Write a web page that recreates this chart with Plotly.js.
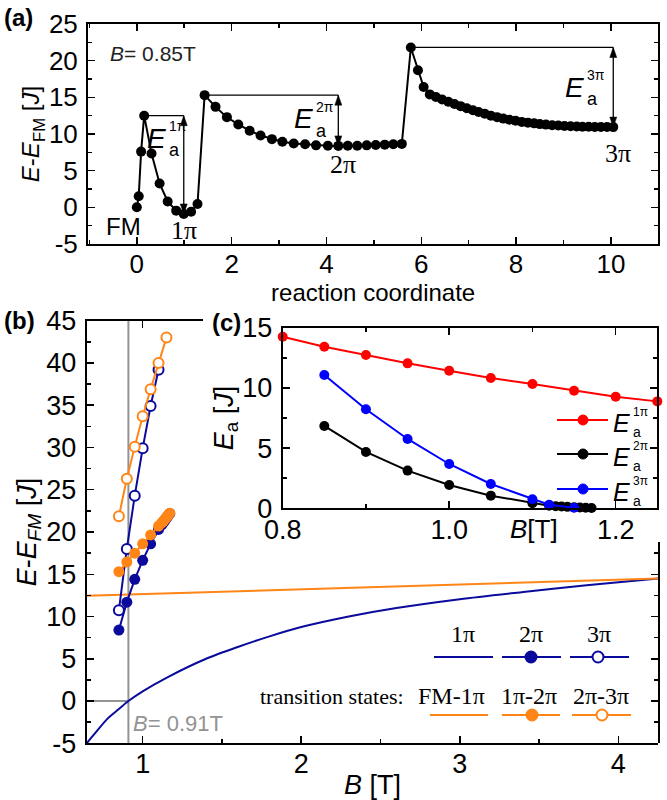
<!DOCTYPE html>
<html><head><meta charset="utf-8">
<script src="https://cdn.plot.ly/plotly-3.0.1.min.js"></script>
<style>html,body{margin:0;padding:0;background:#fff}#chart{width:667px;height:800px}</style>
</head><body><div id="chart"></div>
<script>
// ---------- panel (a): energy path at B = 0.85 T ----------
const coordA = [0, 0.04, 0.09, 0.155, 0.31, 0.48, 0.65, 0.83, 0.99, 1.145, 1.28,
  1.43, 1.66, 1.9, 2.14, 2.38, 2.61, 2.85, 3.07, 3.31, 3.55, 3.78, 4.03, 4.25, 4.45, 4.65, 4.85, 5.04, 5.23, 5.41, 5.59,
  5.78, 5.93, 6.05, 6.18, 6.31, 6.44, 6.57, 6.7, 6.83, 6.96, 7.09, 7.21, 7.34, 7.47, 7.6, 7.73, 7.86, 7.99, 8.12, 8.25,
  8.38, 8.5, 8.63, 8.76, 8.89, 9.02, 9.15, 9.28, 9.4, 9.53, 9.66, 9.79, 9.92, 10.05];
const energyA = [0, 1.5, 7.6, 12.5, 7.35, 3.25, 0.8, -0.45, -0.9, -0.6, 0.45,
  15.3, 13.7, 12.3, 11.3, 10.45, 9.8, 9.3, 8.95, 8.7, 8.6, 8.45, 8.4, 8.38, 8.4, 8.4, 8.45, 8.5, 8.55, 8.6, 8.65,
  21.8, 18.7, 16.4, 15.4, 15.05, 14.7, 14.4, 14.1, 13.8, 13.5, 13.25, 13.0, 12.75, 12.5, 12.3, 12.1, 11.95, 11.8, 11.65, 11.55,
  11.45, 11.35, 11.28, 11.2, 11.15, 11.1, 11.06, 11.03, 11.0, 10.98, 10.97, 10.96, 10.95, 10.94];
const barrierSupA = ['1π', '2π', '3π'];
const stateLabelsA = ['FM', '1π', '2π', '3π'];
const ticksA = [-5, 0, 5, 10, 15, 20, 25];

// ---------- panel (b): energies vs field ----------
const fieldB1pi = [0.647, 0.7, 0.78, 0.85, 0.91, 1.0, 1.15, 1.4, 1.6, 1.8, 2.0, 2.3, 2.6, 3.0, 3.4, 3.8, 4.252];
const energy1pi = [-5, -3.8, -2.05, -0.95, 0, 1.15, 2.75, 5.0, 6.4, 7.65, 8.75, 10.0, 11.0, 12.05, 12.9, 13.7, 14.5];
const fieldBFM1 = [0.647, 4.252];
const energyFM1 = [12.45, 14.5];
const fieldB2pi = [0.85, 0.9, 0.95, 1.0, 1.05, 1.1, 1.12, 1.128, 1.135, 1.142, 1.15, 1.157, 1.164, 1.171];
const energy2pi = [8.4, 11.7, 14.4, 16.65, 18.6, 20.3, 20.85, 21.05, 21.25, 21.43, 21.65, 21.83, 22.02, 22.2];
const energyTS12 = [15.3, 16.45, 17.5, 18.6, 19.65, 20.7, 21.07, 21.23, 21.4, 21.55, 21.74, 21.9, 22.07, 22.23];
const fieldB3pi = [0.85, 0.9, 0.95, 1.0, 1.05, 1.1];
const energy3pi = [10.75, 18.0, 24.3, 29.9, 34.9, 39.2];
const fieldBTS23 = [0.85, 0.9, 0.95, 1.0, 1.05, 1.1, 1.15];
const energyTS23 = [21.85, 26.3, 30.1, 33.7, 36.9, 40.0, 43.0];
const criticalB = 0.91;
const ticksB = [-5, 0, 5, 10, 15, 20, 25, 30, 35, 40, 45];
const legendHeadB = ['1π', '2π', '3π'];
const legendTSB = ['FM-1π', '1π-2π', '2π-3π'];

// ---------- panel (c): activation energies ----------
const fieldC1 = [0.8, 0.85, 0.9, 0.95, 1.0, 1.05, 1.1, 1.15, 1.2, 1.25];
const ea1pi = [14.25, 13.42, 12.73, 12.04, 11.43, 10.82, 10.32, 9.77, 9.27, 8.88];
const fieldC2 = [0.85, 0.9, 0.95, 1.0, 1.05, 1.1, 1.12, 1.128, 1.135, 1.142, 1.15, 1.157, 1.164, 1.171];
const ea2pi = [6.84, 4.68, 3.13, 1.94, 1.05, 0.42, 0.22, 0.18, 0.15, 0.12, 0.09, 0.07, 0.05, 0.03];
const fieldC3 = [0.85, 0.9, 0.95, 1.0, 1.05, 1.1, 1.12, 1.15];
const ea3pi = [11.07, 8.22, 5.76, 3.68, 2.02, 0.75, 0.3, 0.05];
const legendSupC = ['1π', '2π', '3π'];

// ---------- styling ----------
const SANS = 'Liberation Sans, Arial, sans-serif';
const SERIF = 'Liberation Serif, Times New Roman, serif';
const NAVY = '#0a0a9c', ORANGE = '#ff8517';
const colorsC = ['#ff0000', '#000000', '#0000ff'];
const px = v => v / 667, py = v => 1 - v / 800;

function axis(o, minorDtick) {
  const base = {showline: true, linecolor: '#000', linewidth: 2, ticks: 'inside', ticklen: 7, tickwidth: 1.5,
    tickcolor: '#000', showgrid: false, zeroline: false, ticklabelstandoff: 0,
    tickfont: {family: SANS, size: 26, color: '#000'},
    minor: {ticks: 'inside', tickmode: 'linear', tick0: 0, ticklen: 4, tickwidth: 1.5, tickcolor: '#000', showgrid: false, dtick: minorDtick}};
  return Object.assign(base, o);
}

const traces = [];
traces.push({x: coordA, y: energyA, mode: 'lines+markers', xaxis: 'x', yaxis: 'y', showlegend: false,
  line: {color: '#000', width: 2}, marker: {size: 10, color: '#000'}, cliponaxis: false});

// panel b
traces.push({x: fieldB1pi, y: energy1pi, mode: 'lines', xaxis: 'x2', yaxis: 'y2', showlegend: false, name: '1π',
  line: {color: NAVY, width: 2, shape: 'spline', smoothing: 0.8}});
traces.push({x: fieldBFM1, y: energyFM1, mode: 'lines', xaxis: 'x2', yaxis: 'y2', showlegend: false, name: 'FM-1π',
  line: {color: ORANGE, width: 2}});
traces.push({x: fieldB2pi, y: energy2pi, mode: 'lines+markers', xaxis: 'x2', yaxis: 'y2', showlegend: false, name: '2π',
  line: {color: NAVY, width: 2}, marker: {size: 11, color: NAVY}});
traces.push({x: fieldB3pi, y: energy3pi, mode: 'lines+markers', xaxis: 'x2', yaxis: 'y2', showlegend: false, name: '3π',
  line: {color: NAVY, width: 2}, marker: {size: 10, color: '#fff', line: {color: NAVY, width: 2}}});
traces.push({x: fieldB2pi, y: energyTS12, mode: 'lines+markers', xaxis: 'x2', yaxis: 'y2', showlegend: false, name: '1π-2π',
  line: {color: ORANGE, width: 2}, marker: {size: 11, color: ORANGE}});
traces.push({x: fieldBTS23, y: energyTS23, mode: 'lines+markers', xaxis: 'x2', yaxis: 'y2', showlegend: false, name: '2π-3π',
  line: {color: ORANGE, width: 2}, marker: {size: 10, color: '#fff', line: {color: ORANGE, width: 2}}});
// helpers carrying the partial right / top frame of panel (b)
traces.push({x: [null], y: [null], xaxis: 'x2', yaxis: 'y4', showlegend: false, hoverinfo: 'skip', mode: 'markers'});
traces.push({x: [null], y: [null], xaxis: 'x5', yaxis: 'y2', showlegend: false, hoverinfo: 'skip', mode: 'markers'});

// panel c
[[fieldC1, ea1pi], [fieldC2, ea2pi], [fieldC3, ea3pi]].forEach((s, i) => {
  traces.push({x: s[0], y: s[1], mode: 'lines+markers', xaxis: 'x3', yaxis: 'y3', showlegend: false,
    name: 'E_a^' + legendSupC[i], line: {color: colorsC[i], width: 2}, marker: {size: 10, color: colorsC[i]}, cliponaxis: false});
});

// ---------- annotations & shapes ----------
const ann = [], shapes = [];
function txt(o) { return Object.assign({showarrow: false, xanchor: 'center', yanchor: 'middle', borderpad: 0}, o); }
function stackedE(xref, yref, x, y, sup, sizeE, sizeSup, sizeSub, supShift, subShift) {
  ann.push(txt({xref: xref, yref: yref, x: x, y: y, xanchor: 'right', text: '<i>E</i>', font: {family: SANS, size: sizeE}}));
  ann.push(txt({xref: xref, yref: yref, x: x, y: y, xanchor: 'left', xshift: 1, yshift: supShift, text: sup, font: {family: SANS, size: sizeSup}}));
  ann.push(txt({xref: xref, yref: yref, x: x, y: y, xanchor: 'left', xshift: 1, yshift: subShift, text: 'a', font: {family: SANS, size: sizeSub}}));
}

ann.push(txt({xref: 'paper', yref: 'paper', x: px(3), y: py(18), xanchor: 'left', text: '<b>(a)</b>', font: {family: SANS, size: 24}}));
ann.push(txt({xref: 'paper', yref: 'paper', x: px(3), y: py(320), xanchor: 'left', text: '<b>(b)</b>', font: {family: SANS, size: 24}}));
ann.push(txt({xref: 'paper', yref: 'paper', x: px(211), y: py(322), xanchor: 'left', text: '<b>(c)</b>', font: {family: SANS, size: 24}}));

// panel (a): barriers derived from the data (peaks = saddle points, minima = states after them)
const peaks = [];
for (let i = 1; i < energyA.length - 1; i++) {
  if (energyA[i] > energyA[i - 1] && energyA[i] > energyA[i + 1] && energyA[i] - energyA[i + 1] > 1) peaks.push(i);
}
const minima = peaks.map((p, k) => {
  const end = k + 1 < peaks.length ? peaks[k + 1] : energyA.length;
  let m = p; for (let i = p; i < end; i++) if (energyA[i] < energyA[m]) m = i; return m;
});
const eaLabelPos = [[0.64, 9.4], [3.73, 12.1], [9.46, 16.4]];
peaks.forEach((p, k) => {
  const m = minima[k], xa = coordA[m], yTop = energyA[p], yBot = energyA[m];
  shapes.push({type: 'line', xref: 'x', yref: 'y', x0: coordA[p], x1: xa, y0: yTop, y1: yTop, line: {color: '#000', width: 1.3}});
  shapes.push({type: 'line', xref: 'x', yref: 'y', x0: xa, x1: xa, y0: yBot, y1: yTop, line: {color: '#000', width: 1.3}});
  shapes.push({type: 'path', xref: 'x', yref: 'y', xsizemode: 'pixel', ysizemode: 'pixel', xanchor: xa, yanchor: yTop,
    path: 'M0,0 L-3.5,-10 L3.5,-10 Z', fillcolor: '#000', line: {color: '#000', width: 0.5}});
  shapes.push({type: 'path', xref: 'x', yref: 'y', xsizemode: 'pixel', ysizemode: 'pixel', xanchor: xa, yanchor: yBot,
    path: 'M0,0 L-3.5,10 L3.5,10 Z', fillcolor: '#000', line: {color: '#000', width: 0.5}});
  const pos = eaLabelPos[k] || eaLabelPos[eaLabelPos.length - 1];
  stackedE('x', 'y', pos[0], pos[1], barrierSupA[k] || '', 28, 14, 18, 12, -12);
});
ann.push(txt({xref: 'x', yref: 'y', x: -0.58, y: 21.0, xanchor: 'left', text: '<i>B</i>= 0.85T', font: {family: SANS, size: 21, color: '#222'}}));
const stateLabelPos = [[-0.29, -2.6, SANS, 24], [1.0, -3.1, SERIF, 26], [4.35, 5.9, SERIF, 26], [10.14, 7.35, SERIF, 26]];
stateLabelsA.forEach((s, i) => {
  const q = stateLabelPos[i];
  ann.push(txt({xref: 'x', yref: 'y', x: q[0], y: q[1], text: s, font: {family: q[2], size: q[3]}}));
});

// panel (b): critical field guides
shapes.push({type: 'line', xref: 'x2', yref: 'y2 domain', x0: criticalB, x1: criticalB, y0: 0, y1: 1,
  line: {color: '#939393', width: 2}, layer: 'below'});
shapes.push({type: 'line', xref: 'x2 domain', yref: 'y2', x0: 0, x1: (criticalB - 0.647) / (4.252 - 0.647), y0: 0, y1: 0,
  line: {color: '#939393', width: 2}, layer: 'below'});
ann.push(txt({xref: 'x2', yref: 'y2', x: 0.93, y: -2.6, xanchor: 'left', text: '<i>B</i>= ' + criticalB + 'T', font: {family: SANS, size: 22, color: '#939393'}}));

// panel (b) custom legend
const headX = [463, 531, 599], lineL = [434, 502, 570], lineR = [493, 561, 629];
const tsX = [452, 529, 601], tsL = [430, 502, 572], tsR = [488, 560, 631];
function dot(cx, cy, col, open) {
  shapes.push({type: 'circle', xref: 'paper', yref: 'paper', xsizemode: 'pixel', ysizemode: 'pixel',
    xanchor: px(cx), yanchor: py(cy), x0: -5.5, x1: 5.5, y0: -5.5, y1: 5.5,
    fillcolor: open ? '#fff' : col, line: {color: col, width: 2}});
}
legendHeadB.forEach((t, i) => {
  ann.push(txt({xref: 'paper', yref: 'paper', x: px(headX[i]), y: py(634), text: t, font: {family: SERIF, size: 24}}));
  shapes.push({type: 'line', xref: 'paper', yref: 'paper', x0: px(lineL[i]), x1: px(lineR[i]), y0: py(657), y1: py(657), line: {color: NAVY, width: 2}});
});
legendTSB.forEach((t, i) => {
  ann.push(txt({xref: 'paper', yref: 'paper', x: px(tsX[i]), y: py(696), text: t, font: {family: SERIF, size: 24}}));
  shapes.push({type: 'line', xref: 'paper', yref: 'paper', x0: px(tsL[i]), x1: px(tsR[i]), y0: py(715), y1: py(715), line: {color: ORANGE, width: 2}});
});
ann.push(txt({xref: 'paper', yref: 'paper', x: px(405), y: py(696), xanchor: 'right', text: 'transition states:', font: {family: SERIF, size: 22}}));
dot(531, 657, NAVY, false); dot(598, 657, NAVY, true);
dot(532, 715, ORANGE, false); dot(602, 715, ORANGE, true);

// panel (c) legend (stacked sub/superscripts as in the original)
const legRowY = [420, 454, 489];
legendSupC.forEach((s, i) => {
  shapes.push({type: 'line', xref: 'paper', yref: 'paper', x0: px(557), x1: px(608), y0: py(legRowY[i]), y1: py(legRowY[i]),
    line: {color: colorsC[i], width: 2}});
  shapes.push({type: 'circle', xref: 'paper', yref: 'paper', xsizemode: 'pixel', ysizemode: 'pixel',
    xanchor: px(583), yanchor: py(legRowY[i]), x0: -5, x1: 5, y0: -5, y1: 5, fillcolor: colorsC[i], line: {color: colorsC[i], width: 1}});
  stackedE('paper', 'paper', px(631), py(legRowY[i] + 3), s, 25, 12, 14, 11, -9);
});
// panel (c) x-axis label
ann.push(txt({xref: 'paper', yref: 'paper', x: px(534), y: py(529), text: '<i>B</i>[T]', font: {family: SANS, size: 26}}));

const yTitleA = '<i>E</i>-<i>E</i><sub>FM</sub> [<i>J</i>]';
const yTitleB = '<i>E</i>-<i>E<sub>FM</sub></i> [<i>J</i>]';

const layout = {
  width: 667, height: 800, margin: {l: 0, r: 0, t: 0, b: 0},
  paper_bgcolor: '#fff', plot_bgcolor: 'rgba(0,0,0,0)',
  font: {family: SANS, size: 22, color: '#000'},
  showlegend: false,
  xaxis: axis({domain: [px(88), px(658.3)], range: [-1.03, 11], anchor: 'y', dtick: 2, tick0: 0, mirror: 'ticks',
    ticklabelstandoff: -4,
    title: {text: 'reaction coordinate', font: {family: SANS, size: 24}, standoff: 0}}, 1),
  yaxis: axis({domain: [py(244), py(24)], range: [-5, 25], anchor: 'x', tickmode: 'array', tickvals: ticksA,
    ticktext: ticksA.map(String), mirror: 'ticks', ticklabelstandoff: 3,
    title: {text: yTitleA, font: {family: SANS, size: 24}, standoff: 2}}, 2.5),
  xaxis2: axis({domain: [px(86.7), px(658.3)], range: [0.647, 4.252], anchor: 'y2', dtick: 1, tick0: 0, ticklabelstandoff: -5,
    tickfont: {family: SANS, size: 27, color: '#000'},
    title: {text: '<i>B</i> [T]', font: {family: SANS, size: 27}, standoff: 0}}, 0.5),
  yaxis2: axis({domain: [py(743.3), py(320.7)], range: [-5, 45], anchor: 'x2', tickmode: 'array', tickvals: ticksB,
    ticktext: ticksB.map(String), ticklabelstandoff: 3,
    tickfont: {family: SANS, size: 27, color: '#000'},
    title: {text: yTitleB, font: {family: SANS, size: 27}, standoff: 2}}, 2.5),
  yaxis4: axis({domain: [py(743.3), py(541.7)], range: [-5, -5 + (743.3 - 541.7) / 8.452], anchor: 'x2', side: 'right',
    dtick: 5, tick0: 0, showticklabels: false}, 2.5),
  xaxis5: axis({domain: [px(86.7), px(203.3)], range: [0.647, 0.647 + (203.3 - 86.7) / 158.5], anchor: 'y2', side: 'top',
    dtick: 1, tick0: 0, showticklabels: false}, 0.5),
  xaxis3: axis({domain: [px(282.7), px(657.3)], range: [0.8, 1.25], anchor: 'y3', dtick: 0.2, tick0: 0.8, tickformat: '.1f',
    mirror: 'ticks', ticklabelstandoff: -4, tickfont: {family: SANS, size: 27, color: '#000'}}, 0.1),
  yaxis3: axis({domain: [py(508.3), py(327.7)], range: [0, 15], anchor: 'x3', dtick: 5, tick0: 0, mirror: 'ticks',
    ticklabelstandoff: 3, tickfont: {family: SANS, size: 27, color: '#000'},
    title: {text: '<i>E</i><sub>a</sub> [<i>J</i>]', font: {family: SANS, size: 27}, standoff: 0}}, 2.5),
  annotations: ann,
  shapes: shapes
};

Plotly.newPlot('chart', traces, layout, {displayModeBar: false, staticPlot: true});
</script>
</body></html>
